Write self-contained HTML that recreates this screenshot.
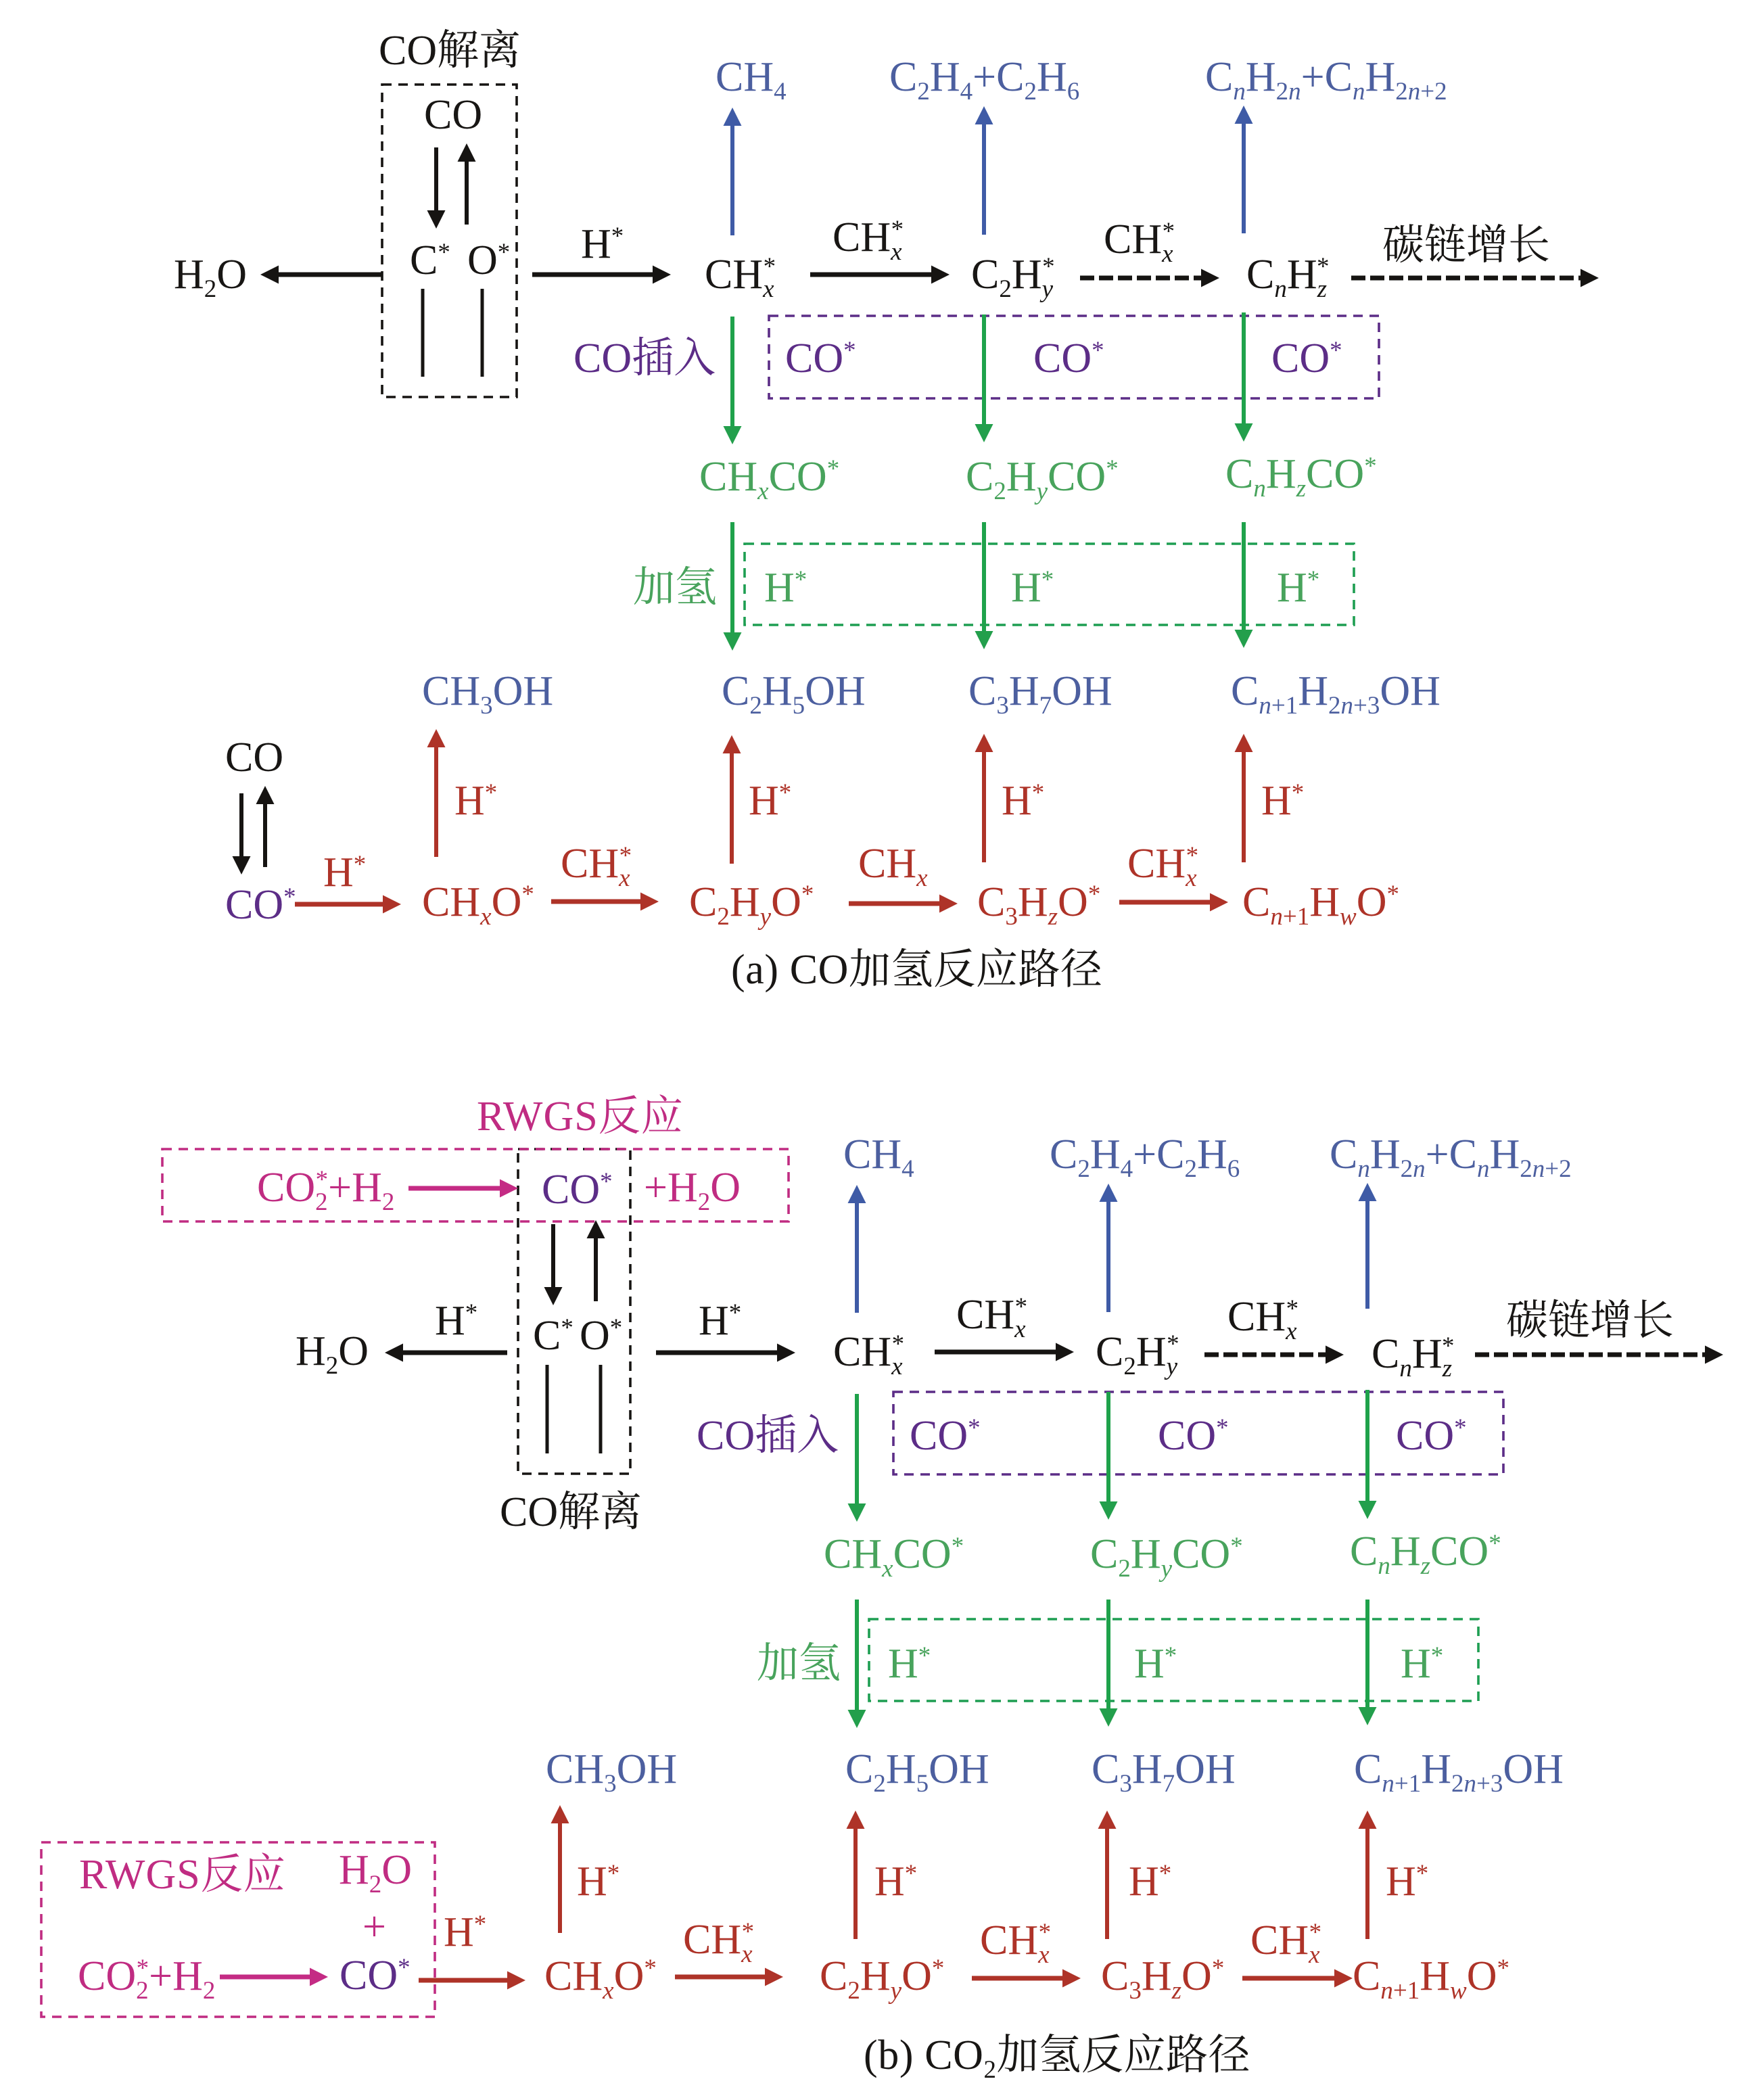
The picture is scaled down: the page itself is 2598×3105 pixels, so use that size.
<!DOCTYPE html>
<html><head><meta charset="utf-8"><title>CO加氢反应路径</title>
<style>
html,body{margin:0;padding:0;background:#fff}
svg{display:block}
text{font-family:"Liberation Serif","Noto Serif CJK SC",serif;font-size:62px;fill:#181614;white-space:pre}
.s{font-size:37px}.i{font-style:italic}
text.bl{fill:#4c5f9f}text.pu{fill:#5c2d87}text.gr{fill:#48a35c}text.re{fill:#ae3328}text.ma{fill:#c02c82}
.tb text{transform:translate(-2px,0)}
line{fill:none}
.ak{stroke:#161412;marker-end:url(#mk)}.ab{stroke:#3f5ba6;marker-end:url(#mb)}.ag{stroke:#1fa24b;marker-end:url(#mg)}.ar{stroke:#ae3328;marker-end:url(#mr)}.am{stroke:#c42b84;marker-end:url(#mm)}
.t6{stroke-width:6}.t7{stroke-width:7}
.d{stroke-dasharray:21 7}
.bx{fill:none;stroke-width:3.6;stroke-dasharray:14 10}
</style></head>
<body>
<svg xmlns="http://www.w3.org/2000/svg" width="2598" height="3105" viewBox="0 0 2598 3105">
<defs>
<marker id="mk" markerUnits="userSpaceOnUse" markerWidth="28" markerHeight="28" refX="7" refY="13.5" orient="auto" overflow="visible"><path d="M0 0L27 13.5L0 27z" fill="#161412"/></marker>
<marker id="mb" markerUnits="userSpaceOnUse" markerWidth="28" markerHeight="28" refX="7" refY="13.5" orient="auto" overflow="visible"><path d="M0 0L27 13.5L0 27z" fill="#3f5ba6"/></marker>
<marker id="mg" markerUnits="userSpaceOnUse" markerWidth="28" markerHeight="28" refX="7" refY="13.5" orient="auto" overflow="visible"><path d="M0 0L27 13.5L0 27z" fill="#239f4c"/></marker>
<marker id="mr" markerUnits="userSpaceOnUse" markerWidth="28" markerHeight="28" refX="7" refY="13.5" orient="auto" overflow="visible"><path d="M0 0L27 13.5L0 27z" fill="#ae3328"/></marker>
<marker id="mm" markerUnits="userSpaceOnUse" markerWidth="28" markerHeight="28" refX="7" refY="13.5" orient="auto" overflow="visible"><path d="M0 0L27 13.5L0 27z" fill="#c42b84"/></marker>
</defs>
<rect width="2598" height="3105" fill="#fff"/>

<!-- PART A -->
<rect class="bx" x="565" y="125" width="199" height="462" stroke="#161412"/>
<text x="560" y="95">CO解离</text>
<text x="627" y="190">CO</text>
<line class="ak t6" x1="645" y1="218" x2="645" y2="318"/>
<line class="ak t6" x1="690" y1="332" x2="690" y2="232"/>
<text x="606" y="405">C<tspan class="s" dy="-20">*</tspan></text>
<text x="691" y="405">O<tspan class="s" dy="-20">*</tspan></text>
<line x1="625" y1="427" x2="625" y2="557" stroke="#161412" stroke-width="5"/>
<line x1="713" y1="427" x2="713" y2="557" stroke="#161412" stroke-width="5"/>
<text x="257" y="426">H<tspan class="s" dy="13">2</tspan><tspan dy="-13">O</tspan></text>
<line class="ak t7" x1="565" y1="406" x2="405" y2="406"/>
<text x="859" y="381">H<tspan class="s" dy="-20">*</tspan></text>
<line class="ak t7" x1="787" y1="406" x2="972" y2="406"/>

<g>
<rect class="bx" x="1137" y="467" width="902" height="122" stroke="#5c2d87"/>
<rect class="bx" x="1101" y="804" width="901" height="120" stroke="#1e9e52"/>
<text class="bl" x="1058" y="134">CH<tspan class="s" dy="13">4</tspan></text>
<text class="bl" x="1315" y="134">C<tspan class="s" dy="13">2</tspan><tspan dy="-13">H</tspan><tspan class="s" dy="13">4</tspan><tspan dy="-13">+C</tspan><tspan class="s" dy="13">2</tspan><tspan dy="-13">H</tspan><tspan class="s" dy="13">6</tspan></text>
<text class="bl" x="1782" y="134">C<tspan class="s i" dy="13">n</tspan><tspan dy="-13">H</tspan><tspan class="s" dy="13">2</tspan><tspan class="s i">n</tspan><tspan dy="-13">+C</tspan><tspan class="s i" dy="13">n</tspan><tspan dy="-13">H</tspan><tspan class="s" dy="13">2</tspan><tspan class="s i">n</tspan><tspan class="s">+2</tspan></text>
<line class="ab t6" x1="1083" y1="348" x2="1083" y2="179"/>
<line class="ab t6" x1="1455" y1="347" x2="1455" y2="177"/>
<line class="ab t6" x1="1839" y1="345" x2="1839" y2="176"/>
<text x="1042" y="426">CH<tspan class="s i" dy="13">x</tspan><tspan class="s" dx="-16" dy="-33">*</tspan></text>
<text x="1231" y="371">CH<tspan class="s i" dy="13">x</tspan><tspan class="s" dx="-16" dy="-33">*</tspan></text>
<line class="ak t7" x1="1198" y1="406" x2="1384" y2="406"/>
<text x="1436" y="426">C<tspan class="s" dy="13">2</tspan><tspan dy="-13">H</tspan><tspan class="s i" dy="13">y</tspan><tspan class="s" dx="-16" dy="-33">*</tspan></text>
<text x="1632" y="374">CH<tspan class="s i" dy="13">x</tspan><tspan class="s" dx="-16" dy="-33">*</tspan></text>
<line class="ak t7 d" x1="1597" y1="411" x2="1783" y2="411"/>
<text x="1843" y="426">C<tspan class="s i" dy="13">n</tspan><tspan dy="-13">H</tspan><tspan class="s i" dy="13">z</tspan><tspan class="s" dx="-15" dy="-33">*</tspan></text>
<line class="ak t7 d" x1="1998" y1="411" x2="2344" y2="411"/>
<text x="2044" y="383">碳链增长</text>
<text class="pu" x="848" y="550">CO插入</text>
<text class="pu" x="1161" y="550">CO<tspan class="s" dy="-20">*</tspan></text>
<text class="pu" x="1528" y="550">CO<tspan class="s" dy="-20">*</tspan></text>
<text class="pu" x="1880" y="550">CO<tspan class="s" dy="-20">*</tspan></text>
<line class="ag t6" x1="1083" y1="468" x2="1083" y2="637"/>
<line class="ag t6" x1="1455" y1="465" x2="1455" y2="634"/>
<line class="ag t6" x1="1839" y1="462" x2="1839" y2="633"/>
<text class="gr" x="1034" y="725">CH<tspan class="s i" dy="13">x</tspan><tspan dy="-13">CO</tspan><tspan class="s" dy="-20">*</tspan></text>
<text class="gr" x="1428" y="725">C<tspan class="s" dy="13">2</tspan><tspan dy="-13">H</tspan><tspan class="s i" dy="13">y</tspan><tspan dy="-13">CO</tspan><tspan class="s" dy="-20">*</tspan></text>
<text class="gr" x="1812" y="721">C<tspan class="s i" dy="13">n</tspan><tspan dy="-13">H</tspan><tspan class="s i" dy="13">z</tspan><tspan dy="-13">CO</tspan><tspan class="s" dy="-20">*</tspan></text>
<text class="gr" x="936" y="889">加氢</text>
<text class="gr" x="1130" y="889">H<tspan class="s" dy="-20">*</tspan></text>
<text class="gr" x="1495" y="889">H<tspan class="s" dy="-20">*</tspan></text>
<text class="gr" x="1888" y="889">H<tspan class="s" dy="-20">*</tspan></text>
<line class="ag t6" x1="1083" y1="772" x2="1083" y2="942"/>
<line class="ag t6" x1="1455" y1="772" x2="1455" y2="940"/>
<line class="ag t6" x1="1839" y1="772" x2="1839" y2="938"/>
<text class="bl" x="1067" y="1042">C<tspan class="s" dy="13">2</tspan><tspan dy="-13">H</tspan><tspan class="s" dy="13">5</tspan><tspan dy="-13">OH</tspan></text>
<text class="bl" x="1432" y="1042">C<tspan class="s" dy="13">3</tspan><tspan dy="-13">H</tspan><tspan class="s" dy="13">7</tspan><tspan dy="-13">OH</tspan></text>
<text class="bl" x="1820" y="1042">C<tspan class="s i" dy="13">n</tspan><tspan class="s">+1</tspan><tspan dy="-13">H</tspan><tspan class="s" dy="13">2</tspan><tspan class="s i">n</tspan><tspan class="s">+3</tspan><tspan dy="-13">OH</tspan></text>
<text class="bl" x="624" y="1042">CH<tspan class="s" dy="13">3</tspan><tspan dy="-13">OH</tspan></text>
</g>

<text x="333" y="1140">CO</text>
<line class="ak t6" x1="357" y1="1173" x2="357" y2="1273"/>
<line class="ak t6" x1="392" y1="1282" x2="392" y2="1182"/>
<text class="pu" x="333" y="1358">CO<tspan class="s" dy="-20">*</tspan></text>
<text class="re" x="478" y="1310">H<tspan class="s" dy="-20">*</tspan></text>
<line class="ar t7" x1="436" y1="1337" x2="573" y2="1337"/>
<text class="re" x="624" y="1354">CH<tspan class="s i" dy="13">x</tspan><tspan dy="-13">O</tspan><tspan class="s" dy="-20">*</tspan></text>
<line class="ar t6" x1="645" y1="1267" x2="645" y2="1098"/>
<text class="re" x="672" y="1204">H<tspan class="s" dy="-20">*</tspan></text>
<text class="re" x="829" y="1297">CH<tspan class="s i" dy="13">x</tspan><tspan class="s" dx="-16" dy="-33">*</tspan></text>
<line class="ar t7" x1="815" y1="1333" x2="954" y2="1333"/>
<text class="re" x="1019" y="1354">C<tspan class="s" dy="13">2</tspan><tspan dy="-13">H</tspan><tspan class="s i" dy="13">y</tspan><tspan dy="-13">O</tspan><tspan class="s" dy="-20">*</tspan></text>
<line class="ar t6" x1="1082" y1="1277" x2="1082" y2="1107"/>
<text class="re" x="1107" y="1204">H<tspan class="s" dy="-20">*</tspan></text>
<text class="re" x="1269" y="1297">CH<tspan class="s i" dy="13">x</tspan></text>
<line class="ar t7" x1="1255" y1="1336" x2="1396" y2="1336"/>
<text class="re" x="1445" y="1354">C<tspan class="s" dy="13">3</tspan><tspan dy="-13">H</tspan><tspan class="s i" dy="13">z</tspan><tspan dy="-13">O</tspan><tspan class="s" dy="-20">*</tspan></text>
<line class="ar t6" x1="1455" y1="1275" x2="1455" y2="1105"/>
<text class="re" x="1481" y="1204">H<tspan class="s" dy="-20">*</tspan></text>
<text class="re" x="1667" y="1297">CH<tspan class="s i" dy="13">x</tspan><tspan class="s" dx="-16" dy="-33">*</tspan></text>
<line class="ar t7" x1="1655" y1="1334" x2="1796" y2="1334"/>
<text class="re" x="1837" y="1354">C<tspan class="s i" dy="13">n</tspan><tspan class="s">+1</tspan><tspan dy="-13">H</tspan><tspan class="s i" dy="13">w</tspan><tspan dy="-13">O</tspan><tspan class="s" dy="-20">*</tspan></text>
<line class="ar t6" x1="1839" y1="1275" x2="1839" y2="1105"/>
<text class="re" x="1865" y="1204">H<tspan class="s" dy="-20">*</tspan></text>
<text x="1081" y="1454" style="letter-spacing:.6px">(a) CO加氢反应路径</text>

<!-- PART B -->
<g class="tb" transform="translate(184,1593)">
<rect class="bx" x="1137" y="465" width="902" height="122" stroke="#5c2d87"/>
<rect class="bx" x="1101" y="801" width="901" height="121" stroke="#1e9e52"/>
<text class="bl" x="1065" y="134">CH<tspan class="s" dy="13">4</tspan></text>
<text class="bl" x="1370" y="134">C<tspan class="s" dy="13">2</tspan><tspan dy="-13">H</tspan><tspan class="s" dy="13">4</tspan><tspan dy="-13">+C</tspan><tspan class="s" dy="13">2</tspan><tspan dy="-13">H</tspan><tspan class="s" dy="13">6</tspan></text>
<text class="bl" x="1784" y="134">C<tspan class="s i" dy="13">n</tspan><tspan dy="-13">H</tspan><tspan class="s" dy="13">2</tspan><tspan class="s i">n</tspan><tspan dy="-13">+C</tspan><tspan class="s i" dy="13">n</tspan><tspan dy="-13">H</tspan><tspan class="s" dy="13">2</tspan><tspan class="s i">n</tspan><tspan class="s">+2</tspan></text>
<line class="ab t6" x1="1083" y1="348" x2="1083" y2="179"/>
<line class="ab t6" x1="1455" y1="347" x2="1455" y2="177"/>
<line class="ab t6" x1="1838" y1="342" x2="1838" y2="176"/>
<text x="1050" y="426">CH<tspan class="s i" dy="13">x</tspan><tspan class="s" dx="-16" dy="-33">*</tspan></text>
<text x="1232" y="371">CH<tspan class="s i" dy="13">x</tspan><tspan class="s" dx="-16" dy="-33">*</tspan></text>
<line class="ak t7" x1="1198" y1="406" x2="1384" y2="406"/>
<text x="1438" y="426">C<tspan class="s" dy="13">2</tspan><tspan dy="-13">H</tspan><tspan class="s i" dy="13">y</tspan><tspan class="s" dx="-16" dy="-33">*</tspan></text>
<text x="1633" y="374">CH<tspan class="s i" dy="13">x</tspan><tspan class="s" dx="-16" dy="-33">*</tspan></text>
<line class="ak t7 d" x1="1597" y1="410" x2="1783" y2="410"/>
<text x="1846" y="429">C<tspan class="s i" dy="13">n</tspan><tspan dy="-13">H</tspan><tspan class="s i" dy="13">z</tspan><tspan class="s" dx="-15" dy="-33">*</tspan></text>
<line class="ak t7 d" x1="1997" y1="410" x2="2344" y2="410"/>
<text x="2045" y="380">碳链增长</text>
<text class="pu" x="848" y="550">CO插入</text>
<text class="pu" x="1163" y="550">CO<tspan class="s" dy="-20">*</tspan></text>
<text class="pu" x="1530" y="550">CO<tspan class="s" dy="-20">*</tspan></text>
<text class="pu" x="1882" y="550">CO<tspan class="s" dy="-20">*</tspan></text>
<line class="ag t6" x1="1083" y1="468" x2="1083" y2="637"/>
<line class="ag t6" x1="1455" y1="465" x2="1455" y2="634"/>
<line class="ag t6" x1="1838" y1="462" x2="1838" y2="633"/>
<text class="gr" x="1036" y="725">CH<tspan class="s i" dy="13">x</tspan><tspan dy="-13">CO</tspan><tspan class="s" dy="-20">*</tspan></text>
<text class="gr" x="1430" y="725">C<tspan class="s" dy="13">2</tspan><tspan dy="-13">H</tspan><tspan class="s i" dy="13">y</tspan><tspan dy="-13">CO</tspan><tspan class="s" dy="-20">*</tspan></text>
<text class="gr" x="1814" y="721">C<tspan class="s i" dy="13">n</tspan><tspan dy="-13">H</tspan><tspan class="s i" dy="13">z</tspan><tspan dy="-13">CO</tspan><tspan class="s" dy="-20">*</tspan></text>
<text class="gr" x="937" y="887">加氢</text>
<text class="gr" x="1131" y="887">H<tspan class="s" dy="-20">*</tspan></text>
<text class="gr" x="1495" y="887">H<tspan class="s" dy="-20">*</tspan></text>
<text class="gr" x="1889" y="887">H<tspan class="s" dy="-20">*</tspan></text>
<line class="ag t6" x1="1083" y1="772" x2="1083" y2="942"/>
<line class="ag t6" x1="1455" y1="772" x2="1455" y2="940"/>
<line class="ag t6" x1="1838" y1="772" x2="1838" y2="938"/>
<text class="bl" x="1068" y="1043">C<tspan class="s" dy="13">2</tspan><tspan dy="-13">H</tspan><tspan class="s" dy="13">5</tspan><tspan dy="-13">OH</tspan></text>
<text class="bl" x="1432" y="1043">C<tspan class="s" dy="13">3</tspan><tspan dy="-13">H</tspan><tspan class="s" dy="13">7</tspan><tspan dy="-13">OH</tspan></text>
<text class="bl" x="1820" y="1043">C<tspan class="s i" dy="13">n</tspan><tspan class="s">+1</tspan><tspan dy="-13">H</tspan><tspan class="s" dy="13">2</tspan><tspan class="s i">n</tspan><tspan class="s">+3</tspan><tspan dy="-13">OH</tspan></text>
<text class="bl" x="625" y="1043">CH<tspan class="s" dy="13">3</tspan><tspan dy="-13">OH</tspan></text>
</g>

<g class="tb">
<text class="ma" x="707" y="1671" style="letter-spacing:1px">RWGS反应</text>
<rect class="bx" x="766" y="1699" width="166" height="480" stroke="#161412"/>
<rect class="bx" x="240" y="1699" width="926" height="107" stroke="#c02c82"/>
<text class="ma" x="382" y="1776">CO<tspan class="s" dy="13">2</tspan><tspan class="s" dx="-18" dy="-33">*</tspan><tspan dy="20">+H</tspan><tspan class="s" dy="13">2</tspan></text>
<line class="am t7" x1="604" y1="1757" x2="746" y2="1757"/>
<text class="pu" x="803" y="1779">CO<tspan class="s" dy="-20">*</tspan></text>
<text class="ma" x="954" y="1776">+H<tspan class="s" dy="13">2</tspan><tspan dy="-13">O</tspan></text>
<line class="ak t6" x1="818" y1="1810" x2="818" y2="1910"/>
<line class="ak t6" x1="881" y1="1924" x2="881" y2="1824"/>
<text x="790" y="1995">C<tspan class="s" dy="-20">*</tspan></text>
<text x="859" y="1995">O<tspan class="s" dy="-20">*</tspan></text>
<line x1="809" y1="2018" x2="809" y2="2149" stroke="#161412" stroke-width="5"/>
<line x1="888" y1="2018" x2="888" y2="2149" stroke="#161412" stroke-width="5"/>
<text x="439" y="2018">H<tspan class="s" dy="13">2</tspan><tspan dy="-13">O</tspan></text>
<line class="ak t7" x1="750" y1="2000" x2="589" y2="2000"/>
<text x="645" y="1973">H<tspan class="s" dy="-20">*</tspan></text>
<text x="1035" y="1973">H<tspan class="s" dy="-20">*</tspan></text>
<line class="ak t7" x1="970" y1="2000" x2="1156" y2="2000"/>
<text x="741" y="2256">CO解离</text>

<rect class="bx" x="61" y="2724" width="582" height="258" stroke="#c02c82"/>
<text class="ma" x="119" y="2792" style="letter-spacing:1px">RWGS反应</text>
<text class="ma" x="503" y="2785">H<tspan class="s" dy="13">2</tspan><tspan dy="-13">O</tspan></text>
<text class="ma" x="538" y="2869">+</text>
<text class="ma" x="117" y="2942">CO<tspan class="s" dy="13">2</tspan><tspan class="s" dx="-18" dy="-33">*</tspan><tspan dy="20">+H</tspan><tspan class="s" dy="13">2</tspan></text>
<line class="am t7" x1="325" y1="2923" x2="465" y2="2923"/>
<text class="pu" x="504" y="2941">CO<tspan class="s" dy="-20">*</tspan></text>
<line class="ar t7" x1="619" y1="2928" x2="757" y2="2928"/>
<text class="re" x="658" y="2877">H<tspan class="s" dy="-20">*</tspan></text>
<text class="re" x="807" y="2942">CH<tspan class="s i" dy="13">x</tspan><tspan dy="-13">O</tspan><tspan class="s" dy="-20">*</tspan></text>
<line class="ar t6" x1="828" y1="2858" x2="828" y2="2689"/>
<text class="re" x="855" y="2802">H<tspan class="s" dy="-20">*</tspan></text>
<text class="re" x="1012" y="2888">CH<tspan class="s i" dy="13">x</tspan><tspan class="s" dx="-16" dy="-33">*</tspan></text>
<line class="ar t7" x1="998" y1="2923" x2="1138" y2="2923"/>
<text class="re" x="1214" y="2942">C<tspan class="s" dy="13">2</tspan><tspan dy="-13">H</tspan><tspan class="s i" dy="13">y</tspan><tspan dy="-13">O</tspan><tspan class="s" dy="-20">*</tspan></text>
<line class="ar t6" x1="1265" y1="2867" x2="1265" y2="2697"/>
<text class="re" x="1295" y="2802">H<tspan class="s" dy="-20">*</tspan></text>
<text class="re" x="1451" y="2889">CH<tspan class="s i" dy="13">x</tspan><tspan class="s" dx="-16" dy="-33">*</tspan></text>
<line class="ar t7" x1="1437" y1="2925" x2="1578" y2="2925"/>
<text class="re" x="1630" y="2942">C<tspan class="s" dy="13">3</tspan><tspan dy="-13">H</tspan><tspan class="s i" dy="13">z</tspan><tspan dy="-13">O</tspan><tspan class="s" dy="-20">*</tspan></text>
<line class="ar t6" x1="1637" y1="2867" x2="1637" y2="2697"/>
<text class="re" x="1671" y="2802">H<tspan class="s" dy="-20">*</tspan></text>
<text class="re" x="1851" y="2889">CH<tspan class="s i" dy="13">x</tspan><tspan class="s" dx="-16" dy="-33">*</tspan></text>
<line class="ar t7" x1="1837" y1="2925" x2="1980" y2="2925"/>
<text class="re" x="2002" y="2942">C<tspan class="s i" dy="13">n</tspan><tspan class="s">+1</tspan><tspan dy="-13">H</tspan><tspan class="s i" dy="13">w</tspan><tspan dy="-13">O</tspan><tspan class="s" dy="-20">*</tspan></text>
<line class="ar t6" x1="2022" y1="2867" x2="2022" y2="2697"/>
<text class="re" x="2051" y="2802">H<tspan class="s" dy="-20">*</tspan></text>
<text x="1279" y="3059" style="letter-spacing:.6px">(b) CO<tspan class="s" dy="13">2</tspan><tspan dy="-13">加氢反应路径</tspan></text>
</g>
</svg>
</body></html>
